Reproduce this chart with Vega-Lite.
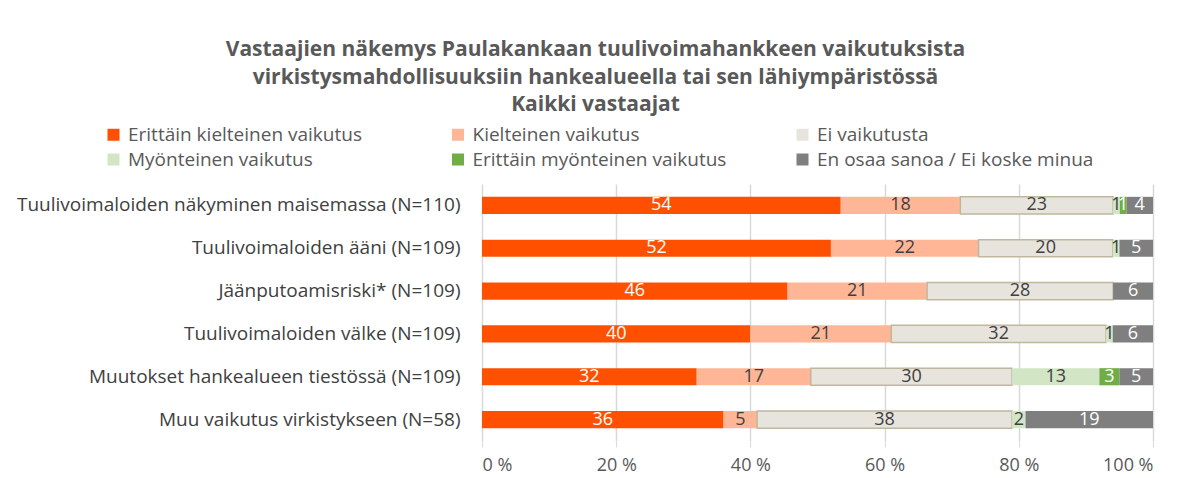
{
  "$schema": "https://vega.github.io/schema/vega-lite/v6.json",
  "autosize": "none",
  "width": 671,
  "height": 257,
  "padding": {"left": 482, "top": 184, "right": 38, "bottom": 37},
  "background": "white",
  "config": {
    "font": "Open Sans",
    "view": {"stroke": null}
  },
  "title": {
    "text": ["Vastaajien näkemys Paulakankaan tuulivoimahankkeen vaikutuksista", "virkistysmahdollisuuksiin  hankealueella tai sen lähiympäristössä", "Kaikki vastaajat"],
    "font": "Open Sans",
    "fontSize": 21,
    "fontWeight": "bold",
    "color": "#595959",
    "lineHeight": 27.5,
    "anchor": "middle",
    "frame": "group",
    "dx": -222,
    "offset": 10
  },
  "data": {
    "values": [
      {"k": "Tuulivoimaloiden näkyminen maisemassa (N=110)", "v": "Erittäin kielteinen vaikutus", "o": 1, "a": 54},
      {"k": "Tuulivoimaloiden näkyminen maisemassa (N=110)", "v": "Kielteinen vaikutus", "o": 2, "a": 18},
      {"k": "Tuulivoimaloiden näkyminen maisemassa (N=110)", "v": "Ei vaikutusta", "o": 3, "a": 23},
      {"k": "Tuulivoimaloiden näkyminen maisemassa (N=110)", "v": "Myönteinen vaikutus", "o": 4, "a": 1},
      {"k": "Tuulivoimaloiden näkyminen maisemassa (N=110)", "v": "Erittäin myönteinen vaikutus", "o": 5, "a": 1},
      {"k": "Tuulivoimaloiden näkyminen maisemassa (N=110)", "v": "En osaa sanoa / Ei koske minua", "o": 6, "a": 4},
      {"k": "Tuulivoimaloiden ääni (N=109)", "v": "Erittäin kielteinen vaikutus", "o": 1, "a": 52},
      {"k": "Tuulivoimaloiden ääni (N=109)", "v": "Kielteinen vaikutus", "o": 2, "a": 22},
      {"k": "Tuulivoimaloiden ääni (N=109)", "v": "Ei vaikutusta", "o": 3, "a": 20},
      {"k": "Tuulivoimaloiden ääni (N=109)", "v": "Myönteinen vaikutus", "o": 4, "a": 1},
      {"k": "Tuulivoimaloiden ääni (N=109)", "v": "En osaa sanoa / Ei koske minua", "o": 6, "a": 5},
      {"k": "Jäänputoamisriski* (N=109)", "v": "Erittäin kielteinen vaikutus", "o": 1, "a": 46},
      {"k": "Jäänputoamisriski* (N=109)", "v": "Kielteinen vaikutus", "o": 2, "a": 21},
      {"k": "Jäänputoamisriski* (N=109)", "v": "Ei vaikutusta", "o": 3, "a": 28},
      {"k": "Jäänputoamisriski* (N=109)", "v": "En osaa sanoa / Ei koske minua", "o": 6, "a": 6},
      {"k": "Tuulivoimaloiden välke (N=109)", "v": "Erittäin kielteinen vaikutus", "o": 1, "a": 40},
      {"k": "Tuulivoimaloiden välke (N=109)", "v": "Kielteinen vaikutus", "o": 2, "a": 21},
      {"k": "Tuulivoimaloiden välke (N=109)", "v": "Ei vaikutusta", "o": 3, "a": 32},
      {"k": "Tuulivoimaloiden välke (N=109)", "v": "Myönteinen vaikutus", "o": 4, "a": 1},
      {"k": "Tuulivoimaloiden välke (N=109)", "v": "En osaa sanoa / Ei koske minua", "o": 6, "a": 6},
      {"k": "Muutokset hankealueen tiestössä (N=109)", "v": "Erittäin kielteinen vaikutus", "o": 1, "a": 32},
      {"k": "Muutokset hankealueen tiestössä (N=109)", "v": "Kielteinen vaikutus", "o": 2, "a": 17},
      {"k": "Muutokset hankealueen tiestössä (N=109)", "v": "Ei vaikutusta", "o": 3, "a": 30},
      {"k": "Muutokset hankealueen tiestössä (N=109)", "v": "Myönteinen vaikutus", "o": 4, "a": 13},
      {"k": "Muutokset hankealueen tiestössä (N=109)", "v": "Erittäin myönteinen vaikutus", "o": 5, "a": 3},
      {"k": "Muutokset hankealueen tiestössä (N=109)", "v": "En osaa sanoa / Ei koske minua", "o": 6, "a": 5},
      {"k": "Muu vaikutus virkistykseen (N=58)", "v": "Erittäin kielteinen vaikutus", "o": 1, "a": 36},
      {"k": "Muu vaikutus virkistykseen (N=58)", "v": "Kielteinen vaikutus", "o": 2, "a": 5},
      {"k": "Muu vaikutus virkistykseen (N=58)", "v": "Ei vaikutusta", "o": 3, "a": 38},
      {"k": "Muu vaikutus virkistykseen (N=58)", "v": "Myönteinen vaikutus", "o": 4, "a": 2},
      {"k": "Muu vaikutus virkistykseen (N=58)", "v": "En osaa sanoa / Ei koske minua", "o": 6, "a": 19}
    ]
  },
  "encoding": {
    "y": {
      "field": "k",
      "type": "nominal",
      "sort": null,
      "scale": {"paddingInner": 0.6, "paddingOuter": 0.3},
      "axis": {
        "title": null,
        "domain": false,
        "ticks": false,
        "labelFont": "Open Sans",
        "labelFontSize": 19,
        "labelColor": "#404040",
        "labelPadding": 22,
        "labelLimit": 500
      }
    },
    "x": {
      "field": "a",
      "type": "quantitative",
      "stack": "normalize",
      "scale": {"domain": [0, 1]},
      "axis": {
        "title": null,
        "values": [0, 0.2, 0.4, 0.6, 0.8, 1],
        "labelExpr": "round(datum.value*100) + ' %'",
        "domain": false,
        "ticks": true,
        "tickSize": 6,
        "tickColor": "#D9D9D9",
        "grid": true,
        "gridColor": "#D9D9D9",
        "gridWidth": 1.5,
        "labelFont": "Open Sans",
        "labelFontSize": 18,
        "labelColor": "#595959",
        "labelPadding": 9
      }
    },
    "order": {"field": "o", "type": "quantitative"}
  },
  "layer": [
    {
      "mark": {"type": "bar"},
      "encoding": {
        "color": {
          "field": "v",
          "type": "nominal",
          "scale": {
            "domain": ["Erittäin kielteinen vaikutus", "Kielteinen vaikutus", "Ei vaikutusta", "Myönteinen vaikutus", "Erittäin myönteinen vaikutus", "En osaa sanoa / Ei koske minua"],
            "range": ["#FF5000", "#FFB697", "#E7E4DD", "#D2E6C6", "#70AD47", "#7F7F7F"]
          },
          "legend": {
            "title": null,
            "orient": "none",
            "legendX": -378,
            "legendY": -59,
            "direction": "horizontal",
            "columns": 3,
            "gridAlign": "all",
            "columnPadding": 43.5,
            "rowPadding": 5,
            "symbolType": "square",
            "symbolSize": 144,
            "symbolStrokeWidth": 0,
            "labelFont": "Open Sans",
            "labelFontSize": 19,
            "labelColor": "#595959",
            "labelOffset": 5,
            "labelLimit": 400
          }
        },
        "stroke": {
          "condition": {"test": "datum.v === 'Ei vaikutusta'", "value": "#BFB89F"},
          "value": null
        },
        "strokeWidth": {"value": 1.5}
      }
    },
    {
      "mark": {"type": "text", "font": "Open Sans", "fontSize": 18, "baseline": "middle", "align": "center"},
      "encoding": {
        "x": {"field": "a", "type": "quantitative", "stack": "normalize", "bandPosition": 0.5},
        "text": {"field": "a", "type": "quantitative"},
        "color": {
          "condition": {"test": "datum.o === 1 || datum.o === 5 || datum.o === 6", "value": "#FFFFFF"},
          "value": "#404040"
        }
      }
    }
  ]
}
